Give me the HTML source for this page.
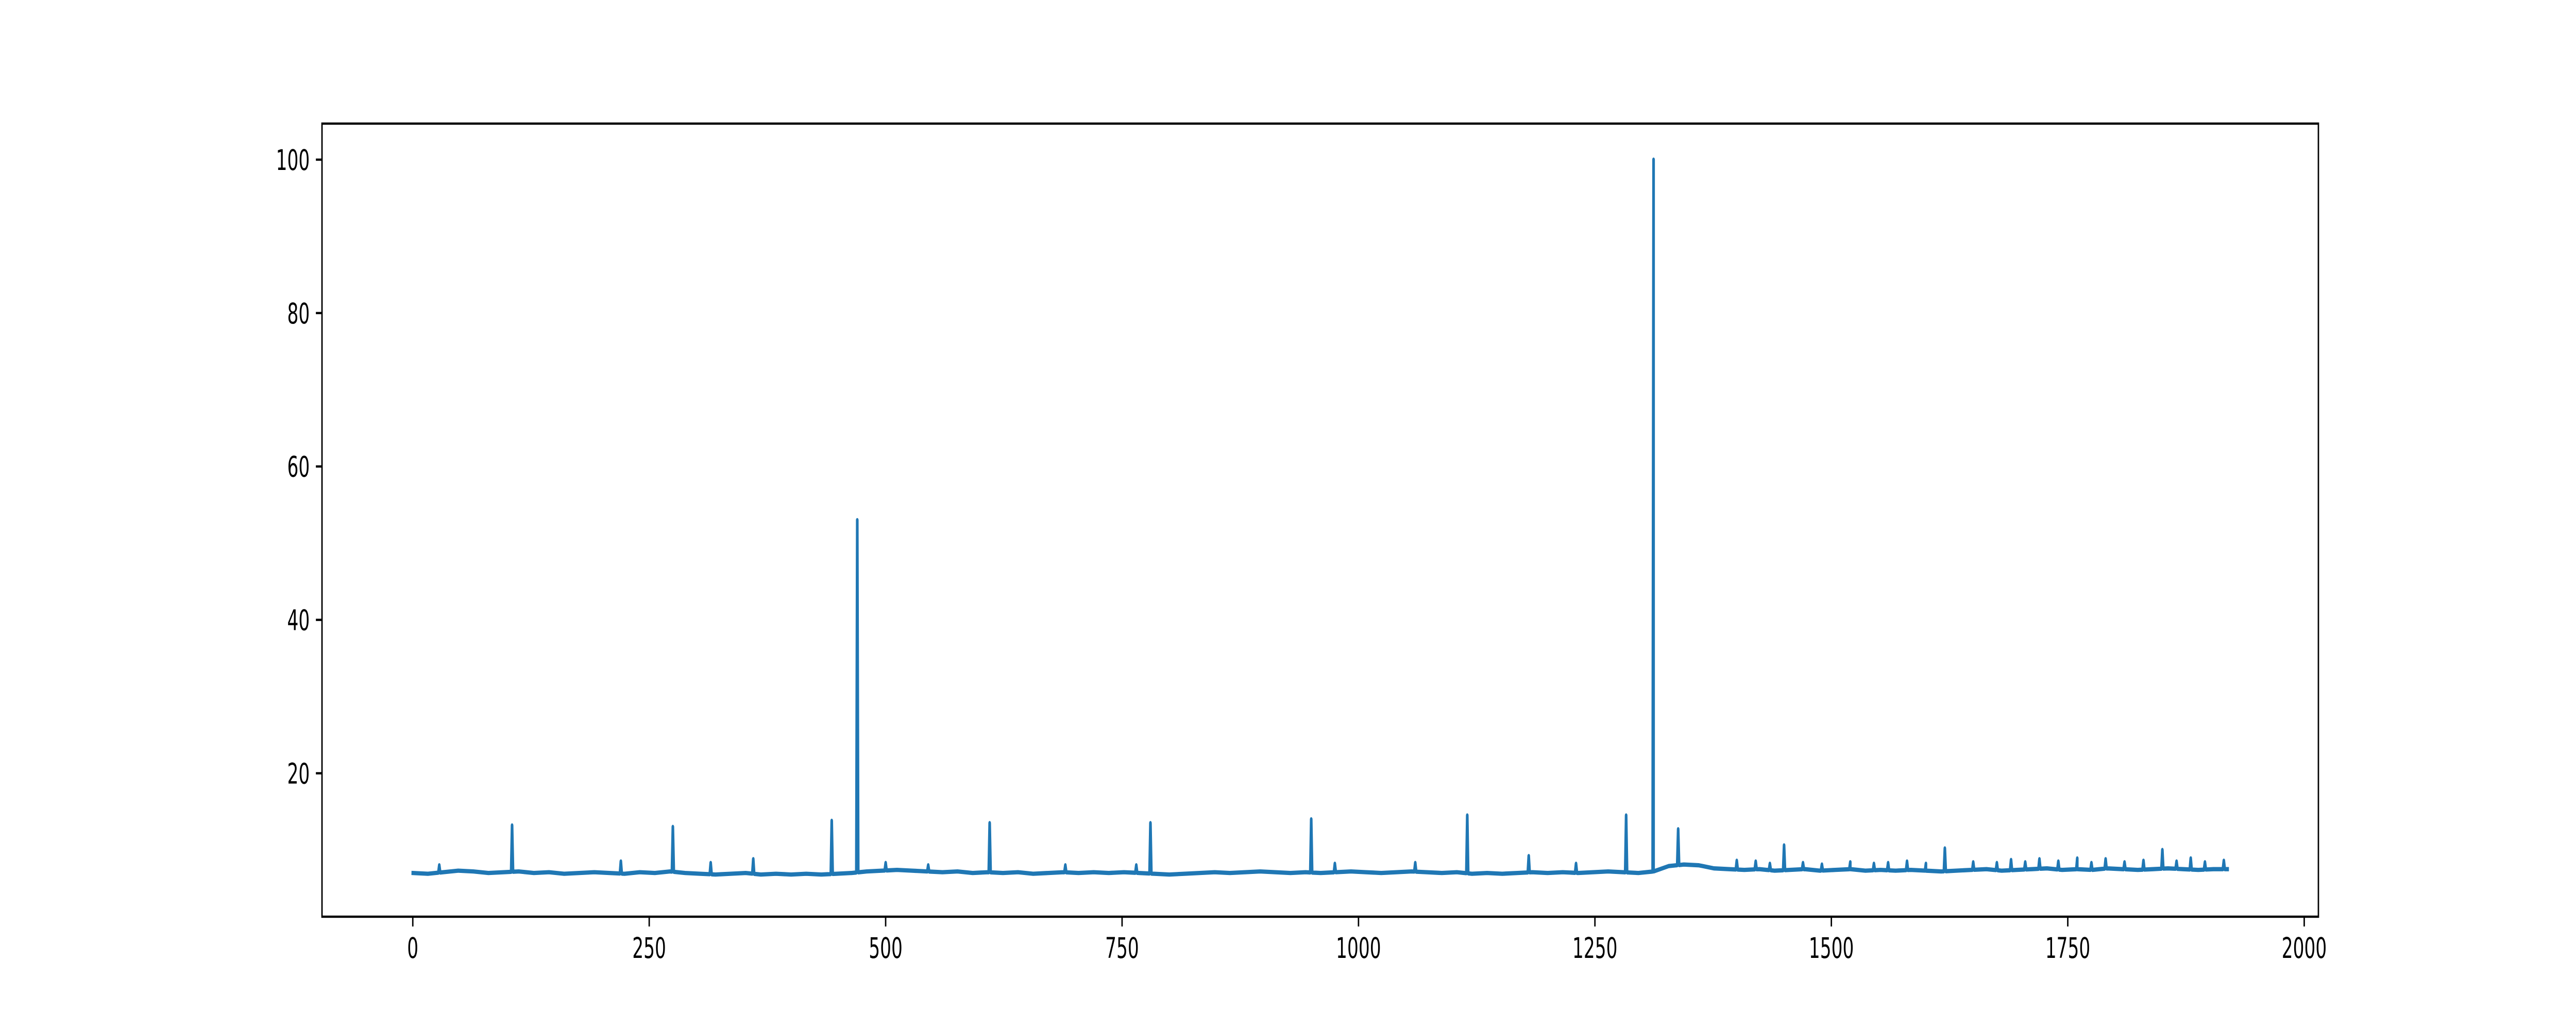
<!DOCTYPE html>
<html><head><meta charset="utf-8"><style>
html,body{margin:0;padding:0;background:#fff;width:100%;height:100%;overflow:hidden;}
svg{display:block;width:100vw;height:100vh;font-family:"DejaVu Sans","Liberation Sans",sans-serif;}
</style></head><body>
<svg id="chart" viewBox="0 0 8000 2000" preserveAspectRatio="none">
<rect x="0" y="0" width="8000" height="2000" fill="#fff"/>
<g id="plot"></g>
<g id="axes"></g>
</svg>
<script>
const baseStep = 16;
const baseValues = [7.0,6.9,7.1,7.3,7.2,7.0,7.1,7.2,7.0,7.1,6.9,7.0,7.1,7.0,6.9,7.1,7.0,7.2,7.0,6.9,6.8,6.9,7.0,6.8,6.9,6.8,6.9,6.8,6.9,7.0,7.2,7.3,7.4,7.3,7.2,7.1,7.2,7.0,7.1,7.0,7.1,6.9,7.0,7.1,7.0,7.1,7.0,7.1,7.0,6.9,6.8,6.9,7.0,7.1,7.0,7.1,7.2,7.1,7.0,7.1,7.0,7.1,7.2,7.1,7.0,7.1,7.2,7.1,7.0,7.1,6.9,7.0,6.9,7.0,7.1,7.0,7.1,7.0,7.1,7.2,7.1,7.0,7.2,7.9,8.1,8.0,7.6,7.5,7.4,7.5,7.3,7.4,7.5,7.3,7.4,7.5,7.3,7.4,7.3,7.4,7.3,7.2,7.3,7.4,7.5,7.3,7.4,7.5,7.6,7.4,7.5,7.4,7.6,7.5,7.4,7.5,7.6,7.5,7.4,7.5,7.5];
const spikeIdx = [28,105,220,275,315,360,443,470,500,545,610,690,765,780,950,975,1060,1115,1180,1230,1283,1312,1338,1400,1420,1435,1450,1470,1490,1520,1545,1560,1580,1600,1620,1650,1675,1690,1705,1720,1740,1760,1775,1790,1810,1830,1850,1865,1880,1895,1915];
const spikeVal = [8.0,13.2,8.5,13.0,8.3,8.8,13.8,53.0,8.3,8.0,13.5,8.0,8.0,13.5,14.0,8.2,8.3,14.5,9.2,8.2,14.5,100.0,12.7,8.6,8.5,8.2,10.6,8.3,8.1,8.4,8.2,8.3,8.5,8.2,10.2,8.4,8.3,8.7,8.4,8.8,8.5,8.9,8.3,8.8,8.4,8.6,10.0,8.5,8.9,8.4,8.6];
const xTicks = [0,250,500,750,1000,1250,1500,1750,2000];
const yTicks = [20,40,60,80,100];
const N = 1920;

const L=1000,R=7200,T=240,B=1780;
const xmin=-96, xmax=2015, ymin=1.3, ymax=104.7;
const X=v=>L+(v-xmin)/(xmax-xmin)*(R-L);
const Y=v=>B-(v-ymin)/(ymax-ymin)*(B-T);
const NS="http://www.w3.org/2000/svg";
function base(i){const k=Math.min(Math.floor(i/baseStep),baseValues.length-2);const f=(i-k*baseStep)/baseStep;return baseValues[k]*(1-f)+baseValues[k+1]*f;}
let pts=[];
let si=0;
for(let i=0;i<baseValues.length;i++){
  const idx=Math.min(i*baseStep,N-1);
  while(si<spikeIdx.length && spikeIdx[si]<=idx){
    const s=spikeIdx[si];
    pts.push([s-1,base(s-1)]);pts.push([s,spikeVal[si]]);pts.push([s+1,base(s+1)]);
    si++;
  }
  pts.push([idx,baseValues[i]]);
}
pts.sort((a,b)=>a[0]-b[0]);
const plot=document.getElementById('plot');
const line=document.createElementNS(NS,'polyline');
line.setAttribute('points',pts.map(p=>X(p[0]).toFixed(1)+','+Y(p[1]).toFixed(1)).join(' '));
line.setAttribute('fill','none');line.setAttribute('stroke','#1f77b4');line.setAttribute('stroke-width','8.3');line.setAttribute('stroke-linejoin','round');line.setAttribute('stroke-linecap','square');


plot.appendChild(line);

const axes=document.getElementById('axes');
const frame=document.createElementNS(NS,'rect');
frame.setAttribute('x',L);frame.setAttribute('y',T);frame.setAttribute('width',R-L);frame.setAttribute('height',B-T);
frame.setAttribute('fill','none');frame.setAttribute('stroke','#000');frame.setAttribute('stroke-width','4.4');


axes.appendChild(frame);
xTicks.forEach(t=>{
  const x=X(t);
  const l=document.createElementNS(NS,'line');
  l.setAttribute('x1',x);l.setAttribute('x2',x);l.setAttribute('y1',B);l.setAttribute('y2',B+19);
  l.setAttribute('stroke','#000');l.setAttribute('stroke-width','4.4');
  
  
  axes.appendChild(l);
  const tx=document.createElementNS(NS,'text');
  tx.setAttribute('x',x);tx.setAttribute('y',B+19+19+42);tx.setAttribute('text-anchor','middle');tx.setAttribute('font-size','55');
  tx.textContent=t;
  
  
  axes.appendChild(tx);
});
yTicks.forEach(t=>{
  const y=Y(t);
  const l=document.createElementNS(NS,'line');
  l.setAttribute('x1',L-19);l.setAttribute('x2',L);l.setAttribute('y1',y);l.setAttribute('y2',y);
  l.setAttribute('stroke','#000');l.setAttribute('stroke-width','4.4');
  
  
  axes.appendChild(l);
  const tx=document.createElementNS(NS,'text');
  tx.setAttribute('x',L-19-19);tx.setAttribute('y',y+20);tx.setAttribute('text-anchor','end');tx.setAttribute('font-size','55');
  tx.textContent=t;
  
  
  axes.appendChild(tx);
});
</script>
</body></html>
